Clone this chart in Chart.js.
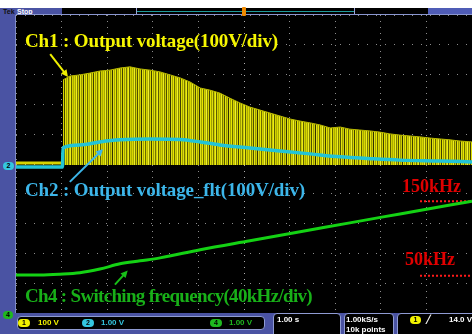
<!DOCTYPE html>
<html>
<head>
<meta charset="utf-8">
<script src="https://cdn.jsdelivr.net/npm/chart.js@4.4.1/dist/chart.umd.min.js"></script>
<style>
  html, body { margin: 0; padding: 0; background: #ffffff; }
  #scope { position: relative; width: 472px; height: 334px; overflow: hidden; background: #ffffff; }
  .a { position: absolute; }
  .lbl { position: absolute; white-space: nowrap; font-family: "Liberation Serif", serif; font-weight: bold; line-height: 1; }
  .ro { position: absolute; white-space: nowrap; font-family: "Liberation Sans", sans-serif; font-weight: bold; font-size: 8px; line-height: 8px; }
  .pill { position: absolute; width: 12px; height: 8px; border-radius: 4px; font-family: "Liberation Sans", sans-serif; font-weight: bold; font-size: 7px; line-height: 8px; text-align: center; color: #000; }
  .box { position: absolute; background: #000; border: 1px solid #8f9bd3; border-radius: 4px; box-sizing: border-box; }
  #screen { position: absolute; left: 16px; top: 15px; background: #000; }
</style>
</head>
<body>
<div id="scope">
  <!-- instrument frame -->
  <div class="a" style="left:0;top:8px;width:472px;height:326px;background:#4a53a3;"></div>
  <div class="ro" style="left:3px;top:8px;font-size:7px;line-height:7px;color:#101010;">Tek</div>
  <div class="ro" style="left:17px;top:8px;font-size:7px;line-height:7px;color:#ffffff;">Stop</div>
  <div class="a" style="left:62px;top:8px;width:74px;height:7px;background:#000;"></div>
  <div class="a" style="left:136px;top:8px;width:219px;height:7px;background:#000;border-left:1px solid #9aa4d8;border-right:1px solid #9aa4d8;box-sizing:border-box;"></div>
  <div class="a" style="left:137px;top:11px;width:217px;height:1px;background:#1f9c9c;"></div>
  <div class="a" style="left:355px;top:8px;width:73px;height:7px;background:#000;"></div>
  <div class="a" style="left:428px;top:8px;width:44px;height:7px;background:#4f5cb6;"></div>

  <canvas id="screen" width="456" height="298"></canvas>

  <div class="a" style="left:16px;top:14px;width:456px;height:1px;background:#8a96d0;"></div>
  <div class="a" style="left:242px;top:7px;width:4px;height:9px;background:#f08a00;border-radius:1px;"></div>
  <div class="a" style="left:15px;top:15px;width:1px;height:298px;background:#7e8ac8;"></div>

  <!-- channel ground markers -->
  <div class="pill" style="left:3px;top:162px;width:11px;background:#34c6e0;">2</div>
  <div class="pill" style="left:3px;top:311px;width:10px;background:#1fb81f;">4</div>

  <!-- waveform captions -->
  <div class="lbl" id="t1" style="left:25px;top:31px;font-size:19px;color:#f6f600;">Ch1 : Output voltage(100V/div)</div>
  <div class="lbl" id="t2" style="left:25px;top:180px;font-size:19px;color:#3cb6ea;">Ch2 : Output voltage_flt(100V/div)</div>
  <div class="lbl" id="t4" style="left:25px;top:286px;font-size:19px;color:#18b018;">Ch4 : Switching frequency(40kHz/div)</div>
  <div class="lbl" id="t150" style="left:402px;top:177px;font-size:18px;color:#e00000;">150kHz</div>
  <div class="lbl" id="t50" style="left:405px;top:250px;font-size:18px;color:#e00000;">50kHz</div>

  <!-- readout bar -->
  <div class="box" style="left:17px;top:316px;width:248px;height:14px;"></div>
  <div class="pill" style="left:18px;top:319px;background:#f2f200;">1</div>
  <div class="ro" style="left:38px;top:319px;color:#f2f200;">100 V</div>
  <div class="pill" style="left:82px;top:319px;background:#34c6e0;">2</div>
  <div class="ro" style="left:101px;top:319px;color:#34c6e0;">1.00 V</div>
  <div class="pill" style="left:210px;top:319px;background:#1fb81f;">4</div>
  <div class="ro" style="left:229px;top:319px;color:#1fb81f;">1.00 V</div>

  <div class="box" style="left:273px;top:313px;width:68px;height:30px;"></div>
  <div class="ro" style="left:277px;top:316px;color:#ffffff;">1.00 s</div>
  <div class="box" style="left:344px;top:313px;width:50px;height:30px;"></div>
  <div class="ro" style="left:346px;top:316px;color:#ffffff;">1.00kS/s</div>
  <div class="ro" style="left:346px;top:326px;color:#ffffff;">10k points</div>
  <div class="box" style="left:397px;top:313px;width:80px;height:30px;"></div>
  <div class="pill" style="left:410px;top:316px;width:11px;background:#f2f200;">1</div>
  <div class="ro" style="left:426px;top:316px;color:#ffffff;">&#x2571;</div>
  <div class="ro" style="left:449px;top:316px;color:#ffffff;">14.0 V</div>
</div>

<script>
// Ch1 output voltage (V): flat level before the burst, then the pulse envelope peaks
const ch1BaseTime  = [0, 1.03];
const ch1BaseVolts = [3, 3];
const ch1PeakTime  = [1.03, 1.18, 1.40, 1.62, 1.84, 2.06, 2.28, 2.50, 2.72, 2.94,
                      3.16, 3.38, 3.60, 3.82, 4.04, 4.25, 4.47, 4.69, 4.91, 5.13,
                      5.35, 5.57, 5.79, 6.01, 6.23, 6.45, 6.67, 6.89, 7.11, 7.32,
                      7.54, 7.76, 7.98, 8.20, 8.42, 8.64, 8.86, 9.08, 9.30, 9.52,
                      9.74, 10.0];
const ch1PeakVolts = [282, 295, 299, 305, 312, 315, 322, 326, 319, 315,
                      309, 299, 289, 275, 255, 248, 238, 221, 205, 191,
                      181, 171, 161, 151, 144, 138, 131, 121, 124, 117,
                      114, 111, 107, 101, 97, 94, 91, 87, 84, 81,
                      77, 74];
const ch1Floor = -3;

// Ch2 filtered output voltage (V)
const ch2Time  = [0, 1.02, 1.03, 1.40, 1.84, 2.28, 2.94, 3.60, 4.04, 4.47,
                  5.13, 5.79, 6.45, 7.11, 7.76, 8.42, 9.30, 10.0];
const ch2Volts = [-10, -10, 54, 64, 74, 81, 84, 82, 74, 64,
                  54, 44, 34, 24, 18, 13, 10, 7];

// Ch4 switching frequency (kHz)
const ch4Time = [0, 0.53, 0.96, 1.40, 1.84, 2.28, 2.72, 3.16, 4.04, 5.13,
                 6.23, 7.32, 8.42, 9.52, 10.0];
const ch4Khz  = [51, 51, 52, 54, 59, 66, 70, 74, 85, 97,
                 109, 121, 133, 145, 150];

// frequency reference marks (kHz) and where their dotted lines start (s)
const refKhz = [150, 50];
const refFrom = 8.86;

const pts = (xs, ys) => xs.map((x, i) => ({ x: x, y: ys[i] }));

// vertical stripe texture for the switching burst
function burstPattern() {
  const shades = ['#d8d800', '#a8a800', '#eeee20', '#7a7a00', '#d0d000', '#505000',
                  '#e4e410', '#9c9c00', '#cece00', '#303000', '#e0e018', '#a4a400',
                  '#e8e800', '#6a6a00', '#d4d400', '#b8b800', '#f0f030', '#868600',
                  '#d8d800', '#404000', '#e2e200', '#a0a000', '#dcdc10', '#747400',
                  '#caca00', '#ecec18', '#5c5c00', '#d2d200', '#acac00'];
  const c = document.createElement('canvas');
  c.width = shades.length; c.height = 2;
  const g = c.getContext('2d');
  shades.forEach((s, i) => { g.fillStyle = s; g.fillRect(i, 0, 1, 2); });
  return g.createPattern(c, 'repeat');
}

// arrows pointing from the captions to their traces (axis units)
const arrowPlugin = {
  id: 'captionArrows',
  afterDatasetsDraw(chart, args, opts) {
    const ctx = chart.ctx;
    opts.items.forEach(a => {
      const ys = chart.scales[a.axis];
      const x0 = chart.scales.x.getPixelForValue(a.from[0]);
      const y0 = ys.getPixelForValue(a.from[1]);
      const x1 = chart.scales.x.getPixelForValue(a.to[0]);
      const y1 = ys.getPixelForValue(a.to[1]);
      const ang = Math.atan2(y1 - y0, x1 - x0);
      const len = 7, half = 3.5;
      ctx.save();
      ctx.strokeStyle = a.color; ctx.fillStyle = a.color; ctx.lineWidth = 2;
      ctx.beginPath();
      ctx.moveTo(x0, y0);
      ctx.lineTo(x1 - Math.cos(ang) * len * 0.8, y1 - Math.sin(ang) * len * 0.8);
      ctx.stroke();
      ctx.beginPath();
      ctx.moveTo(x1, y1);
      ctx.lineTo(x1 - Math.cos(ang) * len - Math.sin(ang) * half, y1 - Math.sin(ang) * len + Math.cos(ang) * half);
      ctx.lineTo(x1 - Math.cos(ang) * len + Math.sin(ang) * half, y1 - Math.sin(ang) * len - Math.cos(ang) * half);
      ctx.closePath();
      ctx.fill();
      ctx.restore();
    });
  }
};

const canvas = document.getElementById('screen');
const gridColor = c => (c.tick && (c.tick.value === 5 || (c.tick.value === 0 && c.scale.axis === 'y')))
  ? 'rgba(175,175,175,1)' : 'rgba(140,140,140,1)';

new Chart(canvas, {
  type: 'line',
  data: {
    datasets: [
      {
        label: 'Ch2', data: pts(ch2Time, ch2Volts), yAxisID: 'y',
        borderColor: '#22c4d6', borderWidth: 3.5, pointRadius: 0,
        cubicInterpolationMode: 'monotone', order: 0
      },
      {
        label: 'Ch4', data: pts(ch4Time, ch4Khz), yAxisID: 'yF',
        borderColor: '#14d214', borderWidth: 3, pointRadius: 0,
        cubicInterpolationMode: 'monotone', order: 1
      },
      ...refKhz.map(k => ({
        label: k + 'kHz', data: pts([refFrom, 10], [k, k]), yAxisID: 'yF',
        borderColor: '#ff1a1a', borderWidth: 2, borderDash: [2, 2], pointRadius: 0, order: 2
      })),
      {
        label: 'Ch1 level', data: pts(ch1BaseTime, ch1BaseVolts), yAxisID: 'y',
        borderColor: '#d4d400', borderWidth: 3, pointRadius: 0, order: 3
      },
      {
        label: 'Ch1', data: pts(ch1PeakTime, ch1PeakVolts), yAxisID: 'y',
        borderColor: '#b8b800', borderWidth: 1, pointRadius: 0, tension: 0,
        fill: { value: ch1Floor }, backgroundColor: burstPattern(), order: 4
      }
    ]
  },
  options: {
    responsive: false,
    animation: false,
    events: [],
    layout: { padding: 0 },
    plugins: {
      legend: { display: false },
      tooltip: { enabled: false },
      captionArrows: {
        items: [
          { axis: 'y',  from: [0.75, 369], to: [1.14, 292], color: '#f0f000' },
          { axis: 'y',  from: [1.18, -60], to: [1.91, 50],  color: '#3cb6ea' },
          { axis: 'yF', from: [2.17, 38],  to: [2.45, 57],  color: '#18c018' }
        ]
      }
    },
    scales: {
      x: {
        type: 'linear', min: 0, max: 10,
        ticks: { display: false, stepSize: 1 },
        grid: { color: gridColor, drawTicks: false, lineWidth: 1 },
        border: { display: false, dash: [1, 5] },
        afterFit: s => { s.height = 0; }
      },
      y: {
        type: 'linear', min: -500, max: 500,
        ticks: { display: false, stepSize: 100 },
        grid: { color: gridColor, drawTicks: false, lineWidth: 1 },
        border: { display: false, dash: [1, 8] },
        afterFit: s => { s.width = 0; }
      },
      yF: {
        type: 'linear', min: 0, max: 400, display: false
      }
    }
  },
  plugins: [arrowPlugin]
});

// stretch the captions to their drawn widths
function fitWidth(id, width) {
  const el = document.getElementById(id);
  const n = el.textContent.length;
  const w = el.getBoundingClientRect().width;
  el.style.letterSpacing = ((width - w) / n) + 'px';
}
fitWidth('t1', 253);
fitWidth('t2', 280);
fitWidth('t4', 287);
</script>
</body>
</html>
